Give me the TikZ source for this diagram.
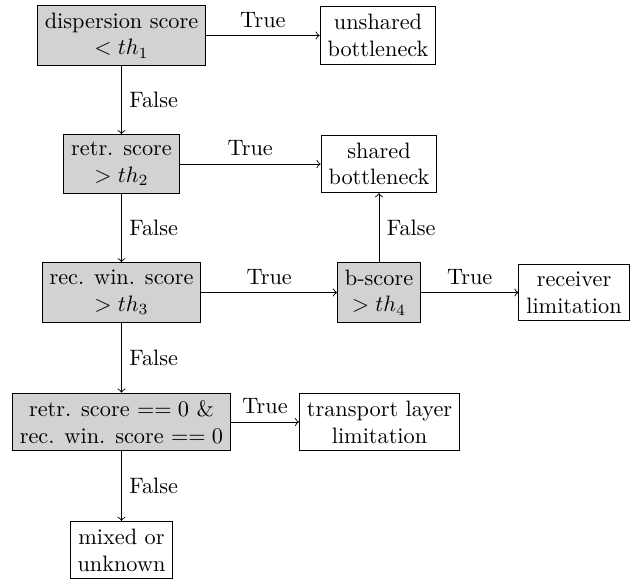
\documentclass[tikz,border=0pt]{standalone}
\begin{document}
\begin{tikzpicture}[x=0.4485pt,y=-0.4485pt,
  cond/.style={draw, fill=gray!35, align=center, inner sep=3.33pt},
  res/.style={draw, fill=white, align=center, inner sep=3.33pt},
  arr/.style={->}]
\useasboundingbox (0,0) rectangle (636,580);
\node[cond] (disp) at (121.5,35.5) {dispersion score\\$<th_1$};
\node[res] (unsh) at (378,35.5) {unshared\\bottleneck};
\node[cond] (retr) at (121.5,164) {retr. score\\$>th_2$};
\node[res] (shar) at (379,164) {shared\\bottleneck};
\node[cond] (recw) at (121.5,292.5) {rec. win. score\\$>th_3$};
\node[cond] (bsc) at (379,292.5) {b-score\\$>th_4$};
\node[res] (recv) at (574,292.5) {receiver\\limitation};
\node[cond] (zero) at (121.5,422) {retr. score $==0$ \&\\rec. win. score $==0$};
\node[res] (trans) at (379.5,422) {transport layer\\limitation};
\node[res] (mix) at (121.5,550) {mixed or\\unknown};

\draw[arr] (disp) -- node[above] {True} (unsh);
\draw[arr] (retr) -- node[above] {True} (shar);
\draw[arr] (recw) -- node[above] {True} (bsc);
\draw[arr] (bsc) -- node[above] {True} (recv);
\draw[arr] (zero) -- node[above] {True} (trans);
\draw[arr] (bsc) -- node[right] {False} (shar);
\draw[arr] (disp) -- node[right] {False} (retr);
\draw[arr] (retr) -- node[right] {False} (recw);
\draw[arr] (recw) -- node[right] {False} (zero);
\draw[arr] (zero) -- node[right] {False} (mix);
\end{tikzpicture}
\end{document}
